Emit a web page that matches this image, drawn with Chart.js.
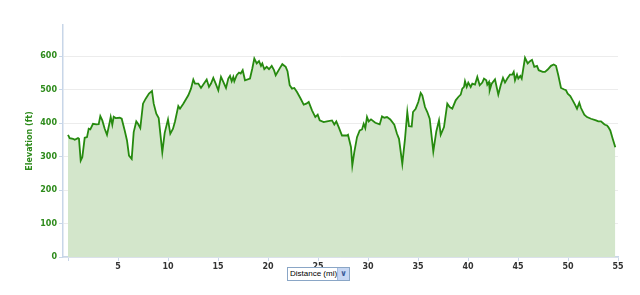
<!DOCTYPE html>
<html>
<head>
<meta charset="utf-8">
<title>Elevation profile</title>
<script src="https://cdn.jsdelivr.net/npm/chart.js@4.4.1/dist/chart.umd.min.js"></script>
<style>
  html, body { margin: 0; padding: 0; background: #fff; }
  .wrap { position: relative; width: 640px; height: 295px; }
  #elevChart { position: absolute; left: 0; top: 0; }
  .unit-select {
    position: absolute; left: 287px; top: 267px; width: 61px; height: 12px;
    border: 1px solid #8aa6c6; background: #fff;
    font: 8px "Liberation Sans", Arial, sans-serif; color: #000;
    line-height: 12px; box-sizing: content-box; overflow: hidden;
  }
  .unit-select span.txt { position: absolute; left: 2px; top: 0; white-space: nowrap; }
  .unit-select span.btn {
    position: absolute; right: 0; top: 0; width: 11px; height: 12px;
    background: #c7d7f3; border-left: 1px solid #a7bde0;
    color: #3b5a9a; font: bold 8px "DejaVu Sans", sans-serif; text-align: center; line-height: 12px;
  }
</style>
</head>
<body>
<div class="wrap">
  <canvas id="elevChart" width="640" height="295"></canvas>
  <div class="unit-select"><span class="txt">Distance (mi)</span><span class="btn">&#x2228;</span></div>
</div>
<script>
/* ── Data ────────────────────────────────────────────────── */
var distanceMi = [
  0, 0.17, 0.5, 0.67, 1.0, 1.1, 1.27, 1.43, 1.67, 1.9, 2.07, 2.23, 2.5, 2.83, 3.07, 3.23, 3.43, 3.67, 3.9,
  4.17, 4.27, 4.43, 4.57, 4.77, 5.17, 5.37, 5.67, 5.9, 6.1, 6.37, 6.57, 6.83, 7.0, 7.23, 7.5, 7.77, 8.1,
  8.4, 8.57, 8.83, 9.07, 9.43, 9.67, 10.0, 10.23, 10.5, 10.7, 11.03, 11.2, 11.53, 12.03, 12.3, 12.53, 12.7,
  13.03, 13.3, 13.53, 13.87, 14.1, 14.3, 14.53, 14.77, 15.03, 15.3, 15.53, 15.8, 16.03, 16.2, 16.37, 16.53,
  16.63, 16.87, 17.1, 17.27, 17.47, 17.7, 18.2, 18.43, 18.63, 18.87, 19.1, 19.3, 19.43, 19.63, 19.87, 20.1,
  20.37, 20.6, 20.77, 21.2, 21.43, 21.77, 21.95, 22.17, 22.4, 22.63, 22.9, 23.23, 23.57, 23.83, 24.07, 24.4,
  24.73, 24.97, 25.17, 25.57, 25.9, 26.4, 26.63, 26.83, 27.07, 27.4, 27.9, 28.0, 28.3, 28.43, 28.63, 28.9,
  29.17, 29.4, 29.57, 29.73, 29.9, 30.07, 30.3, 30.73, 31.17, 31.4, 31.63, 31.9, 32.23, 32.63, 32.9, 33.1,
  33.43, 33.7, 33.93, 34.1, 34.37, 34.5, 34.77, 35.03, 35.27, 35.43, 35.7, 35.93, 36.17, 36.53, 36.83, 37.1,
  37.27, 37.6, 37.93, 38.17, 38.43, 38.77, 39.03, 39.27, 39.43, 39.6, 39.7, 39.87, 40.03, 40.27, 40.43, 40.7,
  40.93, 41.17, 41.43, 41.6, 41.83, 41.93, 42.1, 42.17, 42.37, 42.7, 43.03, 43.27, 43.5, 43.7, 43.93, 44.2,
  44.43, 44.57, 44.7, 44.9, 45.03, 45.23, 45.37, 45.7, 45.97, 46.2, 46.4, 46.63, 46.9, 47.07, 47.47, 47.7,
  47.97, 48.3, 48.57, 48.8, 49.03, 49.3, 49.57, 49.8, 49.97, 50.23, 50.47, 50.7, 50.9, 51.13, 51.3, 51.63,
  51.9, 52.3, 52.8, 53.03, 53.3, 53.57, 53.7, 53.9, 54.03, 54.23, 54.47, 54.73
];
var elevationFt = [
  365, 355, 353, 350, 355, 353, 288, 298, 356, 358, 383, 381, 398, 396, 397, 421, 408, 383, 365,
  403, 418, 395, 419, 415, 416, 413, 378, 348, 303, 293, 373, 405, 398, 385, 458, 473, 488,
  496, 458, 428, 415, 313, 371, 411, 368, 383, 405, 451, 443, 458, 483, 503, 530, 518,
  518, 505, 515, 530, 508, 518, 535, 518, 498, 538, 523, 505, 533, 541, 525, 538,
  525, 543, 551, 548, 558, 528, 533, 563, 593, 578, 585, 571, 578, 561, 568, 561,
  571, 558, 543, 565, 576, 568, 555, 513, 503, 505, 493, 475, 455, 458, 463, 438,
  418, 425, 408, 403, 405, 408, 396, 405, 388, 363, 363, 365, 328, 273, 313, 358,
  378, 381, 398, 385, 418, 405, 411, 401, 396, 420, 416, 418, 411, 395, 368, 353,
  278, 353, 433, 391, 390, 433, 443, 463, 490, 483, 448, 433, 413, 315, 375, 408,
  365, 388, 458, 448, 443, 468, 478, 485, 503, 508, 525, 508, 521, 508, 518, 515,
  538, 513, 521, 533, 528, 515, 523, 498, 518, 531, 485, 513, 535, 521, 533, 545,
  545, 553, 528, 545, 533, 541, 533, 595, 578, 585, 589, 568, 571, 558, 553, 553,
  560, 571, 575, 571, 543, 505, 501, 498, 488, 481, 468, 455, 443, 461, 445, 425,
  418, 413, 408, 405, 405, 398, 395, 393, 388, 378, 353, 328
];
var xTickValues = [0, 5, 10, 15, 20, 25, 30, 35, 40, 45, 50, 55];
var yTickValues = [0, 100, 200, 300, 400, 500, 600];

(function () {
  'use strict';

  var LINE = '#268a0f';
  var FILL = '#d3e6cb';
  var LABEL_GREEN = '#2e8b1c';
  var AXIS = '#c8d6e8';
  var GRID = '#ececec';

  var points = distanceMi.map(function (d, i) { return { x: d, y: elevationFt[i] }; });

  new Chart(document.getElementById('elevChart'), {
    type: 'line',
    data: {
      datasets: [{
        label: 'Elevation',
        data: points,
        borderColor: LINE,
        backgroundColor: FILL,
        borderWidth: 1.8,
        pointRadius: 0,
        fill: 'origin',
        tension: 0
      }]
    },
    options: {
      responsive: false,
      animation: false,
      events: [],
      layout: { padding: { left: 0, right: 22, top: 25, bottom: 0 } },
      plugins: { legend: { display: false }, tooltip: { enabled: false } },
      scales: {
        x: {
          type: 'linear',
          min: -0.5,
          max: 55,
          afterBuildTicks: function (axis) {
            axis.ticks = xTickValues.map(function (v) { return { value: v }; });
          },
          afterFit: function (axis) { axis.height = 38; },
          ticks: {
            autoSkip: false,
            maxRotation: 0,
            padding: 1,
            color: '#333',
            font: { family: "'DejaVu Sans', Verdana, sans-serif", size: 8, weight: 'bold' },
            callback: function (v) { return v === 0 ? '' : String(v); }
          },
          grid: { drawOnChartArea: false, drawTicks: true, tickLength: 4, tickColor: AXIS },
          border: { color: AXIS, width: 1.5 }
        },
        y: {
          min: 0,
          max: 693,
          afterBuildTicks: function (axis) {
            axis.ticks = yTickValues.map(function (v) { return { value: v }; });
          },
          afterFit: function (axis) { axis.width = 63; },
          ticks: {
            padding: 2,
            color: LABEL_GREEN,
            font: { family: "'DejaVu Sans', Verdana, sans-serif", size: 8, weight: 'bold' },
            callback: function (v) { return String(v); }
          },
          title: {
            display: true,
            text: 'Elevation (ft)',
            color: LABEL_GREEN,
            padding: { top: 25, bottom: 0 },
            font: { family: "'DejaVu Sans', Verdana, sans-serif", size: 8, weight: 'bold' }
          },
          grid: { color: GRID, tickLength: 4, tickColor: AXIS },
          border: { color: AXIS, width: 1.5 }
        }
      }
    }
  });
})();
</script>
</body>
</html>
